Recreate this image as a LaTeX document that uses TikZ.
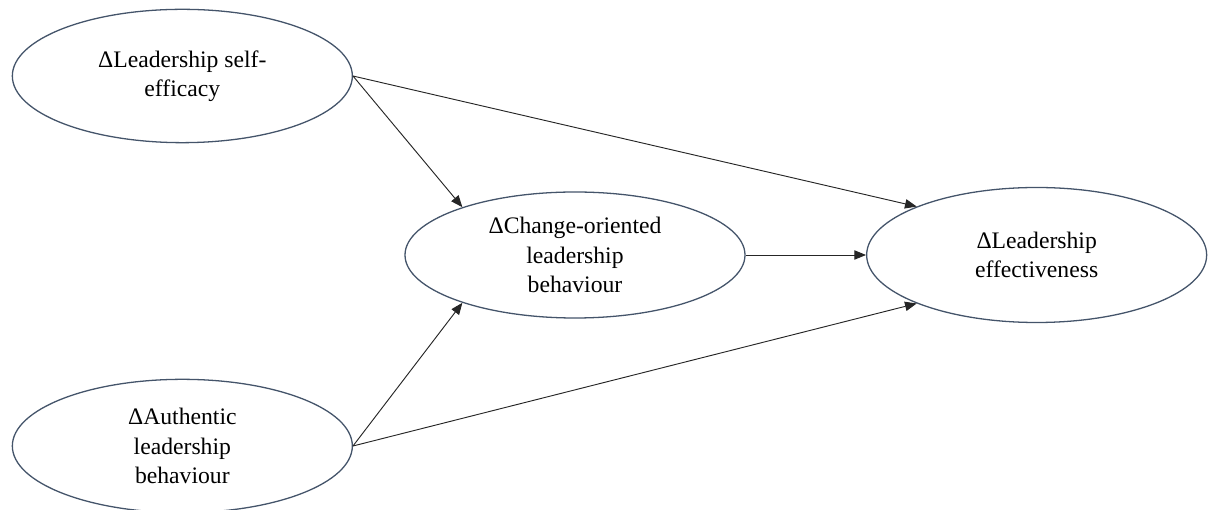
\documentclass[tikz,border=0pt]{standalone}
\usepackage{fontspec}
\setmainfont{Liberation Serif}
\usetikzlibrary{shapes.geometric,arrows.meta}

\definecolor{rimblue}{RGB}{68,84,106}

\begin{document}
\begin{tikzpicture}[
  cnode/.style={ellipse, draw=rimblue, line width=1.1pt, fill=white, inner sep=0pt,
    minimum width=10.2cm, minimum height=4cm, align=center,
    font=\fontsize{20.2}{25.2}\selectfont},
  path/.style={line width=0.8pt, draw=black!85, -{Triangle[length=10pt,width=8pt]}}
]

  \useasboundingbox (0,0) rectangle (36.36,15.3);

  % --- Predictors ---
  \node[cnode] (lse) at (5.47, 13.02) {ΔLeadership self-\\efficacy};
  \node[cnode] (alb) at (5.47, 1.92) {ΔAuthentic\\leadership\\behaviour};

  % --- Mediator ---
  \node[cnode, minimum height=3.78cm] (col) at (17.25, 7.65) {ΔChange-oriented\\leadership\\behaviour};

  % --- Outcome ---
  \node[cnode, minimum height=4.05cm] (eff) at (31.1, 7.65) {ΔLeadership\\effectiveness};

  \draw[path] (lse.east) -- (col.157);
  \draw[path] (lse.east) -- (eff.158);
  \draw[path] (alb.east) -- (col.203);
  \draw[path] (alb.east) -- (eff.202);
  \draw[path] (col.east) -- (eff.west);

\end{tikzpicture}
\end{document}
